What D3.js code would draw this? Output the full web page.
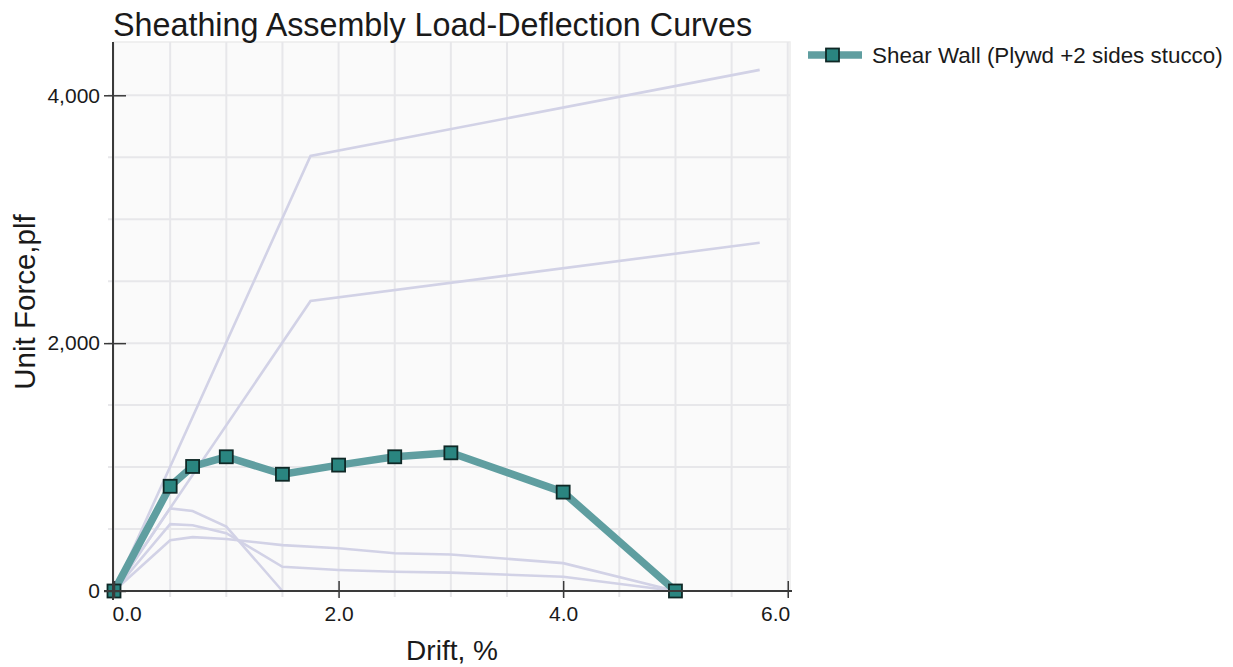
<!DOCTYPE html>
<html>
<head>
<meta charset="utf-8">
<script src="https://cdn.jsdelivr.net/npm/d3@7"></script>
<style>
    body { margin: 0; background: white; }
    #chart { width: 1233px; height: 667px; }
    text { font-family: Arial, "Liberation Sans", sans-serif; fill: #1a1a1a; }
</style>
</head>
<body>
<div id="chart"></div>
<script>

// drift values (%) shared by the main series and the lower reference curves
const drift = [0, 0.5, 0.7, 1.0, 1.5, 2.0, 2.5, 3.0, 4.0, 5.0];

// main series: Shear Wall (Plywd + 2 sides stucco), plf
const shearWall = [0, 845, 1005, 1083, 942, 1016, 1083, 1115, 798, 0];

// faint reference curves
const refDriftStiff = [0, 1.75, 5.75];
const refStiffA = [0, 3510, 4205];
const refStiffB = [0, 2340, 2810];

const refDriftShort = [0, 0.5, 0.7, 1.0, 1.5];
const refShortC = [0, 667, 645, 520, 0];
const refD = [0, 540, 530, 467, 195, 170, 155, 148, 115, 0];
const refE = [0, 410, 435, 420, 370, 345, 305, 295, 225, 0];

const xTicks = [0, 2, 4, 6];
const yTicks = [0, 2000, 4000];

const seriesName = "Shear Wall (Plywd +2 sides stucco)";
const chartTitle = "Sheathing Assembly Load-Deflection Curves";

class LoadDeflectionVis {

    constructor(parentElement) {
        this.parentElement = parentElement;
        this.mainColor = "#5f9ea0";
        this.refColor = "#d2d2e6";
        this.initVis();
    }

    initVis() {
        let vis = this;

        vis.margin = {top: 42, right: 443, bottom: 76, left: 114};
        vis.width = 1233 - vis.margin.left - vis.margin.right;
        vis.height = 667 - vis.margin.top - vis.margin.bottom;

        vis.svg = d3.select("#" + vis.parentElement).append("svg")
            .attr("width", 1233)
            .attr("height", 667);

        vis.g = vis.svg.append("g")
            .attr("transform", `translate(${vis.margin.left}, ${vis.margin.top})`);

        // scales
        vis.x = d3.scaleLinear().domain([0, 6.02]).range([0, vis.width]);
        vis.y = d3.scaleLinear().domain([0, 4430]).range([vis.height, 0]);

        // plot background
        vis.g.append("rect")
            .attr("width", vis.width)
            .attr("height", vis.height)
            .attr("fill", "#fafafa")
            .attr("stroke", "#ececec")
            .attr("stroke-width", 1.5);

        // gridlines every 0.5 % and every 500 plf
        vis.g.append("g").selectAll("line")
            .data(d3.range(0.5, 6.01, 0.5))
            .enter().append("line")
            .attr("x1", d => vis.x(d))
            .attr("x2", d => vis.x(d))
            .attr("y1", 0)
            .attr("y2", vis.height + 6)
            .attr("stroke", "#e7e7ea")
            .attr("stroke-width", 2);

        vis.g.append("g").selectAll("line")
            .data(d3.range(500, 4001, 500))
            .enter().append("line")
            .attr("x1", -6)
            .attr("x2", vis.width)
            .attr("y1", d => vis.y(d))
            .attr("y2", d => vis.y(d))
            .attr("stroke", "#e7e7ea")
            .attr("stroke-width", 2);

        // title
        vis.svg.append("text")
            .attr("x", 113)
            .attr("y", 36)
            .attr("font-size", 32.3)
            .text(chartTitle);

        // axis titles
        vis.svg.append("text")
            .attr("x", 452)
            .attr("y", 660)
            .attr("text-anchor", "middle")
            .attr("font-size", 28)
            .text("Drift, %");

        vis.svg.append("text")
            .attr("transform", "translate(35, 302) rotate(-90)")
            .attr("text-anchor", "middle")
            .attr("font-size", 29.5)
            .text("Unit Force,plf");

        vis.lineGen = d3.line()
            .x(d => vis.x(d[0]))
            .y(d => vis.y(d[1]));

        vis.updateVis();
    }

    updateVis() {
        let vis = this;

        // faint reference curves
        let refs = [
            d3.zip(refDriftStiff, refStiffA),
            d3.zip(refDriftStiff, refStiffB),
            d3.zip(refDriftShort, refShortC),
            d3.zip(drift, refD),
            d3.zip(drift, refE)
        ];

        vis.g.append("g").selectAll("path")
            .data(refs)
            .enter().append("path")
            .attr("d", vis.lineGen)
            .attr("fill", "none")
            .attr("stroke", vis.refColor)
            .attr("stroke-width", 2.6);

        // main series
        let mainData = d3.zip(drift, shearWall);

        vis.g.append("path")
            .datum(mainData)
            .attr("d", vis.lineGen)
            .attr("fill", "none")
            .attr("stroke", vis.mainColor)
            .attr("stroke-width", 7.5)
            .attr("stroke-linejoin", "round");

        vis.g.append("g").selectAll("rect")
            .data(mainData)
            .enter().append("rect")
            .attr("x", d => vis.x(d[0]) - 6.5)
            .attr("y", d => vis.y(d[1]) - 6.5)
            .attr("width", 13)
            .attr("height", 13)
            .attr("fill", "#2a8580")
            .attr("stroke", "#0f2826")
            .attr("stroke-width", 1.8);

        // axes
        vis.yAxis = d3.axisLeft(vis.y)
            .tickValues(yTicks)
            .tickFormat(d3.format(","))
            .tickSizeInner(10)
            .tickSizeOuter(0)
            .tickPadding(4);

        let yAxisG = vis.g.append("g").call(vis.yAxis);
        yAxisG.select(".domain").remove();
        yAxisG.selectAll(".tick line").attr("x1", 12).attr("stroke", "#3a3a3a").attr("stroke-width", 1.5);
        yAxisG.selectAll(".tick text").attr("font-size", 21).attr("font-family", null).attr("fill", "#1a1a1a");

        vis.xAxis = d3.axisBottom(vis.x)
            .tickValues(xTicks)
            .tickFormat(d3.format(".1f"))
            .tickSizeInner(7)
            .tickSizeOuter(0)
            .tickPadding(8);

        let xAxisG = vis.g.append("g")
            .attr("transform", `translate(0, ${vis.height})`)
            .call(vis.xAxis);
        xAxisG.select(".domain").remove();
        xAxisG.selectAll(".tick line").attr("y1", -10).attr("stroke", "#3a3a3a").attr("stroke-width", 1.5);
        xAxisG.selectAll(".tick text")
            .attr("font-size", 21)
            .attr("font-family", null)
            .attr("fill", "#1a1a1a")
            .attr("text-anchor", d => d === 0 ? "start" : (d === 6 ? "end" : "middle"))
            .attr("x", d => d === 0 ? -2 : (d === 6 ? 2 : 0));

        // axis lines
        vis.g.append("line")
            .attr("x1", -1).attr("x2", -1)
            .attr("y1", 0).attr("y2", vis.height + 9)
            .attr("stroke", "#3a3a3a").attr("stroke-width", 2);
        vis.g.append("line")
            .attr("x1", -10).attr("x2", vis.width + 2)
            .attr("y1", vis.height).attr("y2", vis.height)
            .attr("stroke", "#3a3a3a").attr("stroke-width", 2);

        // legend
        let legend = vis.svg.append("g")
            .attr("transform", "translate(808, 55)");
        legend.append("line")
            .attr("x1", 0).attr("x2", 54)
            .attr("stroke", vis.mainColor)
            .attr("stroke-width", 7.5);
        legend.append("rect")
            .attr("x", 18).attr("y", -6.5)
            .attr("width", 13).attr("height", 13)
            .attr("fill", "#2a8580")
            .attr("stroke", "#0f2826")
            .attr("stroke-width", 1.8);
        legend.append("text")
            .attr("x", 64)
            .attr("y", 8)
            .attr("font-size", 22.4)
            .text(seriesName);
    }
}

let myChart = new LoadDeflectionVis("chart");

</script>
</body>
</html>
